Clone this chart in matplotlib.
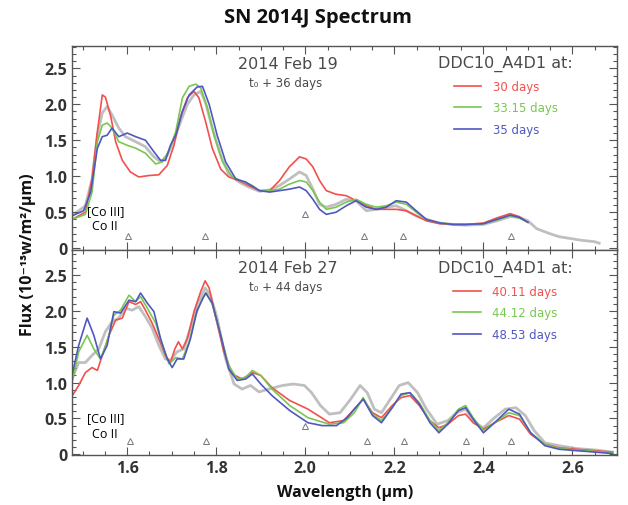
import matplotlib
matplotlib.use("Agg")
import matplotlib.pyplot as plt
from matplotlib.ticker import MultipleLocator, FixedLocator, FixedFormatter

##########
# digitised spectra, top panel: 2014 Feb 19 (t0 + 36 days)
##########
top_obs_x = [1.476, 1.506, 1.521, 1.533, 1.544, 1.555, 1.566, 1.581, 1.596, 1.619, 1.641, 1.660,
             1.675, 1.690, 1.705, 1.720, 1.735, 1.750, 1.765, 1.776, 1.791, 1.810, 1.828, 1.851,
             1.873, 1.897, 1.920, 1.942, 1.964, 1.987, 2.002, 2.017, 2.032, 2.047, 2.069, 2.092,
             2.114, 2.137, 2.159, 2.182, 2.204, 2.227, 2.249, 2.272, 2.302, 2.332, 2.36, 2.40,
             2.43, 2.46, 2.48, 2.50, 2.52, 2.55, 2.57, 2.60, 2.62, 2.65, 2.66]
top_obs_y = [0.45, 0.59, 0.96, 1.57, 1.88, 1.97, 1.85, 1.67, 1.55, 1.48, 1.41, 1.27,
             1.20, 1.29, 1.50, 1.76, 2.00, 2.13, 2.18, 2.02, 1.67, 1.29, 1.03, 0.92,
             0.85, 0.79, 0.81, 0.87, 0.96, 1.06, 1.01, 0.82, 0.61, 0.57, 0.61, 0.68,
             0.66, 0.52, 0.54, 0.57, 0.59, 0.52, 0.45, 0.40, 0.35, 0.33, 0.32, 0.33,
             0.38, 0.44, 0.43, 0.38, 0.27, 0.20, 0.16, 0.13, 0.11, 0.09, 0.07]

top_red_x = [1.476, 1.506, 1.521, 1.533, 1.544, 1.551, 1.563, 1.574, 1.589, 1.607, 1.626, 1.649,
             1.671, 1.690, 1.705, 1.720, 1.735, 1.750, 1.761, 1.776, 1.791, 1.810, 1.828, 1.851,
             1.873, 1.897, 1.920, 1.942, 1.964, 1.987, 2.002, 2.017, 2.032, 2.047, 2.069, 2.092,
             2.114, 2.137, 2.159, 2.182, 2.204, 2.227, 2.249, 2.272, 2.302, 2.332, 2.36, 2.40,
             2.43, 2.46, 2.48, 2.50]
top_red_y = [0.40, 0.50, 0.96, 1.62, 2.13, 2.10, 1.83, 1.48, 1.22, 1.06, 0.99, 1.01,
             1.02, 1.15, 1.43, 1.83, 2.09, 2.18, 2.09, 1.76, 1.39, 1.10, 0.99, 0.94,
             0.87, 0.80, 0.80, 0.94, 1.13, 1.27, 1.24, 1.13, 0.94, 0.80, 0.75, 0.73,
             0.66, 0.59, 0.54, 0.54, 0.54, 0.52, 0.45, 0.38, 0.34, 0.33, 0.33, 0.35,
             0.42, 0.48, 0.44, 0.36]

top_green_x = [1.476, 1.506, 1.521, 1.533, 1.544, 1.555, 1.566, 1.581, 1.600, 1.619, 1.641, 1.664,
               1.679, 1.694, 1.709, 1.724, 1.739, 1.754, 1.765, 1.780, 1.795, 1.814, 1.836, 1.858,
               1.881, 1.897, 1.920, 1.942, 1.964, 1.987, 2.002, 2.017, 2.032, 2.047, 2.069, 2.092,
               2.114, 2.137, 2.159, 2.182, 2.204, 2.227, 2.249, 2.272, 2.302, 2.332, 2.36, 2.40,
               2.43, 2.46, 2.48, 2.50]
top_green_y = [0.40, 0.47, 0.78, 1.48, 1.71, 1.74, 1.67, 1.48, 1.43, 1.39, 1.32, 1.17,
               1.20, 1.36, 1.62, 2.09, 2.25, 2.28, 2.23, 1.95, 1.57, 1.20, 0.99, 0.93,
               0.87, 0.80, 0.80, 0.82, 0.89, 0.94, 0.92, 0.80, 0.64, 0.54, 0.57, 0.64,
               0.68, 0.61, 0.57, 0.59, 0.64, 0.61, 0.50, 0.40, 0.35, 0.33, 0.33, 0.34,
               0.39, 0.45, 0.42, 0.36]

top_blue_x = [1.476, 1.502, 1.518, 1.533, 1.544, 1.555, 1.566, 1.581, 1.600, 1.619, 1.641, 1.660,
              1.675, 1.686, 1.697, 1.709, 1.724, 1.739, 1.757, 1.769, 1.784, 1.802, 1.821, 1.844,
              1.866, 1.897, 1.920, 1.942, 1.964, 1.987, 2.002, 2.017, 2.032, 2.047, 2.069, 2.092,
              2.114, 2.137, 2.159, 2.182, 2.204, 2.227, 2.249, 2.272, 2.302, 2.332, 2.36, 2.40,
              2.43, 2.46, 2.48, 2.50]
top_blue_y = [0.45, 0.52, 0.78, 1.39, 1.55, 1.57, 1.67, 1.55, 1.60, 1.55, 1.50, 1.34,
              1.22, 1.22, 1.43, 1.57, 1.90, 2.13, 2.24, 2.25, 2.00, 1.57, 1.20, 0.96,
              0.92, 0.80, 0.78, 0.80, 0.82, 0.85, 0.80, 0.68, 0.54, 0.47, 0.50, 0.59,
              0.66, 0.57, 0.54, 0.57, 0.66, 0.64, 0.52, 0.40, 0.35, 0.33, 0.33, 0.34,
              0.40, 0.46, 0.43, 0.36]

top_days = ["30 days", "33.15 days", "35 days"]
top_tri_x = [1.602, 1.774, 2.0, 2.132, 2.219, 2.461]
top_tri_y = [0.17, 0.17, 0.48, 0.17, 0.17, 0.17]

##########
# bottom panel: 2014 Feb 27 (t0 + 44 days)
##########
bot_obs_x = [1.476, 1.491, 1.506, 1.521, 1.536, 1.551, 1.566, 1.581, 1.596, 1.611, 1.626, 1.641,
             1.656, 1.671, 1.686, 1.697, 1.712, 1.727, 1.742, 1.757, 1.775, 1.787, 1.802, 1.821,
             1.840, 1.858, 1.877, 1.896, 1.918, 1.949, 1.973, 1.998, 2.014, 2.034, 2.054, 2.078,
             2.102, 2.123, 2.139, 2.155, 2.171, 2.191, 2.211, 2.231, 2.252, 2.272, 2.296, 2.32,
             2.34, 2.36, 2.381, 2.40, 2.425, 2.449, 2.473, 2.494, 2.514, 2.538, 2.57, 2.61,
             2.651, 2.69]
bot_obs_y = [1.05, 1.28, 1.28, 1.38, 1.47, 1.71, 1.85, 1.90, 2.04, 2.01, 2.06, 1.92,
             1.76, 1.52, 1.33, 1.31, 1.43, 1.47, 1.76, 2.09, 2.32, 2.22, 1.90, 1.33,
             0.98, 0.91, 0.96, 0.87, 0.91, 0.96, 0.98, 0.96, 0.86, 0.68, 0.56, 0.58,
             0.77, 0.96, 0.86, 0.63, 0.58, 0.77, 0.96, 1.00, 0.86, 0.63, 0.42, 0.47,
             0.58, 0.63, 0.44, 0.37, 0.51, 0.63, 0.65, 0.54, 0.33, 0.16, 0.12, 0.08,
             0.06, 0.03]

bot_red_x = [1.476, 1.491, 1.506, 1.521, 1.533, 1.544, 1.559, 1.574, 1.589, 1.604, 1.619, 1.630,
             1.641, 1.656, 1.671, 1.686, 1.697, 1.707, 1.715, 1.724, 1.735, 1.750, 1.765, 1.775,
             1.784, 1.799, 1.817, 1.836, 1.858, 1.881, 1.900, 1.925, 1.965, 2.006, 2.054, 2.086,
             2.11, 2.13, 2.151, 2.171, 2.195, 2.215, 2.235, 2.256, 2.28, 2.30, 2.32, 2.344,
             2.36, 2.377, 2.40, 2.425, 2.457, 2.481, 2.506, 2.538, 2.57, 2.61, 2.651, 2.69]
bot_red_y = [0.81, 0.96, 1.14, 1.21, 1.17, 1.38, 1.66, 1.87, 1.90, 2.13, 2.09, 2.13,
             2.01, 1.83, 1.61, 1.38, 1.28, 1.47, 1.57, 1.47, 1.61, 1.99, 2.27, 2.42,
             2.32, 1.90, 1.43, 1.12, 1.05, 1.14, 1.10, 0.93, 0.75, 0.63, 0.44, 0.47,
             0.63, 0.77, 0.58, 0.51, 0.68, 0.79, 0.82, 0.68, 0.47, 0.37, 0.42, 0.54,
             0.56, 0.44, 0.35, 0.44, 0.54, 0.49, 0.28, 0.14, 0.09, 0.07, 0.05, 0.03]

bot_green_x = [1.476, 1.491, 1.510, 1.525, 1.540, 1.555, 1.570, 1.585, 1.604, 1.619, 1.630, 1.645,
               1.664, 1.679, 1.694, 1.709, 1.724, 1.739, 1.754, 1.769, 1.778, 1.791, 1.810, 1.828,
               1.847, 1.866, 1.881, 1.900, 1.925, 1.965, 2.006, 2.054, 2.086, 2.11, 2.13, 2.151,
               2.171, 2.195, 2.215, 2.235, 2.256, 2.28, 2.30, 2.32, 2.344, 2.36, 2.377, 2.40,
               2.425, 2.457, 2.481, 2.506, 2.538, 2.57, 2.61, 2.651, 2.69]
bot_green_y = [1.00, 1.43, 1.66, 1.47, 1.33, 1.57, 1.94, 2.01, 2.22, 2.13, 2.20, 2.04,
               1.83, 1.52, 1.26, 1.35, 1.33, 1.57, 1.94, 2.18, 2.25, 2.09, 1.66, 1.24,
               1.05, 1.07, 1.17, 1.10, 0.91, 0.68, 0.51, 0.42, 0.44, 0.58, 0.79, 0.56,
               0.47, 0.65, 0.82, 0.86, 0.72, 0.47, 0.33, 0.44, 0.63, 0.68, 0.51, 0.33,
               0.44, 0.58, 0.54, 0.30, 0.14, 0.08, 0.06, 0.04, 0.02]

bot_blue_x = [1.476, 1.491, 1.510, 1.525, 1.540, 1.555, 1.570, 1.585, 1.604, 1.619, 1.630, 1.645,
              1.660, 1.675, 1.690, 1.701, 1.712, 1.727, 1.742, 1.757, 1.776, 1.791, 1.810, 1.828,
              1.847, 1.866, 1.881, 1.900, 1.925, 1.965, 2.006, 2.038, 2.070, 2.094, 2.11, 2.13,
              2.151, 2.171, 2.195, 2.215, 2.235, 2.256, 2.28, 2.30, 2.32, 2.344, 2.36, 2.377,
              2.40, 2.425, 2.457, 2.481, 2.506, 2.538, 2.57, 2.61, 2.651, 2.69]
bot_blue_y = [1.10, 1.52, 1.90, 1.66, 1.33, 1.52, 1.99, 1.97, 2.15, 2.13, 2.25, 2.11,
              1.99, 1.61, 1.33, 1.21, 1.33, 1.33, 1.61, 2.01, 2.25, 2.11, 1.66, 1.19,
              1.03, 1.05, 1.12, 0.98, 0.82, 0.61, 0.44, 0.40, 0.40, 0.51, 0.63, 0.77,
              0.54, 0.44, 0.65, 0.84, 0.86, 0.70, 0.44, 0.30, 0.42, 0.61, 0.65, 0.49,
              0.30, 0.44, 0.63, 0.56, 0.30, 0.12, 0.07, 0.05, 0.03, 0.01]

bot_days = ["40.11 days", "44.12 days", "48.53 days"]
bot_tri_x = [1.607, 1.778, 2.0, 2.138, 2.222, 2.36, 2.461]
bot_tri_y = [0.18, 0.18, 0.39, 0.18, 0.18, 0.18, 0.18]

RED = "#f2504c"
GREEN = "#78c850"
BLUE = "#5058c0"
GREY = "#b0b0b0"
TXT = "#4a4a4a"

W, H = 628, 506
fig = plt.figure(figsize=(W / 100, H / 100), dpi=100)

# axes boxes in pixels: left, top, right, bottom
ax_top = fig.add_axes([72 / W, (H - 251) / H, (617 - 72) / W, (251 - 47) / H])
ax_bot = fig.add_axes([72 / W, (H - 456) / H, (617 - 72) / W, (456 - 251) / H])


def draw_panel(ax, obs, models, days, tri, date, tlabel, ylim, ann_y):
    ax.plot(obs[0], obs[1], color=GREY, lw=2.0, alpha=0.8, zorder=1)
    handles = []
    for (mx, my), col, lab in zip(models, [RED, GREEN, BLUE], days):
        h, = ax.plot(mx, my, color=col, lw=1.2, label=lab, zorder=2)
        handles.append(h)
    ax.plot(tri[0], tri[1], linestyle="none", marker="^", ms=3.8, mfc="none",
            mec="#777777", mew=0.7)

    ax.set_xlim(1.476, 2.70)
    ax.set_ylim(*ylim)

    ax.text(1.96, ann_y[0], date, fontsize=11.5, color=TXT, ha="center", va="center",
            family="DejaVu Sans")
    ax.text(1.955, ann_y[1], tlabel, fontsize=8.5, color=TXT, ha="center", va="center",
            family="DejaVu Sans")
    ax.text(1.552, ann_y[2], "[Co III]", fontsize=9, color="black", ha="center", va="center",
            family="Open Sans")
    ax.text(1.550, ann_y[3], "Co II", fontsize=9, color="black", ha="center", va="center",
            family="Open Sans")

    leg = ax.legend(handles=handles, title="DDC10_A4D1 at:", loc="upper left",
                    bbox_to_anchor=(0.672, ann_y[4]), frameon=False, borderpad=0,
                    borderaxespad=0, labelcolor="linecolor", handlelength=2.3,
                    handletextpad=1.0, labelspacing=0.72,
                    prop={"family": "DejaVu Sans", "size": 8.5},
                    title_fontproperties={"family": "DejaVu Sans", "size": 11.5})
    leg.get_title().set_color(TXT)

    ax.xaxis.set_major_locator(MultipleLocator(0.2))
    ax.xaxis.set_minor_locator(MultipleLocator(0.05))
    ax.yaxis.set_major_locator(FixedLocator([0, 0.5, 1.0, 1.5, 2.0, 2.5]))
    ax.yaxis.set_major_formatter(FixedFormatter(["0", "0.5", "1.0", "1.5", "2.0", "2.5"]))
    ax.yaxis.set_minor_locator(MultipleLocator(0.1))
    ax.tick_params(which="both", direction="in", top=True, right=True, colors="#555555",
                   labelcolor="#333333", labelsize=11.5, width=0.8)
    ax.tick_params(which="major", length=6)
    ax.tick_params(which="minor", length=3)
    for lbl in ax.get_xticklabels() + ax.get_yticklabels():
        lbl.set_fontweight("bold")
        lbl.set_family("Open Sans")
    for sp in ax.spines.values():
        sp.set_color("#555555")
        sp.set_linewidth(1.0)


draw_panel(ax_top, (top_obs_x, top_obs_y),
           [(top_red_x, top_red_y), (top_green_x, top_green_y), (top_blue_x, top_blue_y)],
           top_days, (top_tri_x, top_tri_y), "2014 Feb 19", "t\u2080 + 36 days",
           (-0.025, 2.81), [2.56, 2.30, 0.52, 0.31, 0.955])
draw_panel(ax_bot, (bot_obs_x, bot_obs_y),
           [(bot_red_x, bot_red_y), (bot_green_x, bot_green_y), (bot_blue_x, bot_blue_y)],
           bot_days, (bot_tri_x, bot_tri_y), "2014 Feb 27", "t\u2080 + 44 days",
           (-0.01, 2.85), [2.61, 2.34, 0.51, 0.29, 0.95])
ax_top.tick_params(labelbottom=False)

fig.text(318 / W, 1 - 18 / H, "SN 2014J Spectrum", ha="center", va="center",
         fontsize=14.5, fontweight="bold", family="Open Sans", color="#111111")
fig.text(28 / W, 1 - 255 / H, "Flux (10\u207b\u00b9\u00b3w/m\u00b2/\u00b5m)", ha="center",
         va="center", rotation=90, fontsize=11.5, fontweight="bold",
         family=["Open Sans", "DejaVu Sans"], color="#111111")
fig.text(345 / W, 1 - 493 / H, "Wavelength (\u00b5m)", ha="center", va="center",
         fontsize=11.5, fontweight="bold", family="Open Sans", color="#111111")

fig.savefig("out.png", dpi=100)
